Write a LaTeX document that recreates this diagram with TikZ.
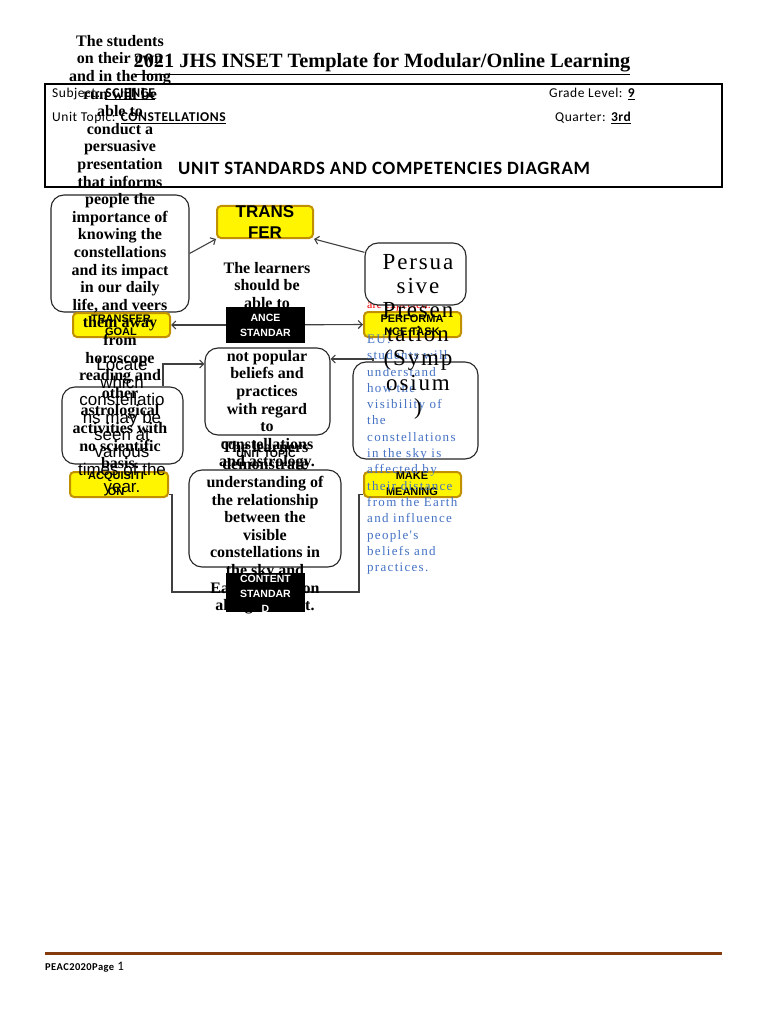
\documentclass[tikz,border=0pt]{standalone}
\usepackage{fontspec}
\setmainfont{Liberation Serif}
\newfontfamily\sfA{Liberation Sans}
\newfontfamily\hdrfont[LetterSpace=4]{Carlito}
\newfontfamily\spserif[LetterSpace=8]{Liberation Serif}
\newfontfamily\blueserif[LetterSpace=10]{Liberation Serif}
\usetikzlibrary{arrows.meta}
\definecolor{ylw}{HTML}{FFF500}
\definecolor{ylwedge}{HTML}{C09000}
\definecolor{eublue}{HTML}{4472C4}
\definecolor{footbrown}{HTML}{843C0C}
\definecolor{conncol}{HTML}{404040}
\tikzset{
  roundbox/.style={draw=black!85, line width=1.1pt, rounded corners=13pt, fill=white, inner sep=0pt},
  ybox/.style={draw=ylwedge, fill=ylw, line width=2pt, rounded corners=4pt, inner sep=0pt},
  ylabel/.style={font=\sfA\bfseries\fontsize{11}{12.5}\selectfont, align=center, inner sep=0pt},
  blackbox/.style={fill=black, inner sep=0pt, minimum width=79pt},
  wlabel/.style={text=white, font=\sfA\bfseries\fontsize{10.5}{15}\selectfont, align=center, inner sep=0pt},
  bodytext/.style={font=\bfseries\fontsize{16}{17.6}\selectfont, align=center, inner sep=0pt},
  hdrtext/.style={font=\hdrfont\fontsize{13.5}{16}\selectfont, inner sep=0pt, anchor=west},
  connline/.style={draw=conncol, line width=1.1pt},
  arr/.style={connline, -{Straight Barb[length=4pt,width=8pt]}},
}
\begin{document}
\begin{tikzpicture}[x=1pt,y=-1pt]
\fill[white] (0,0) rectangle (768,1024);
\useasboundingbox (0,0) rectangle (768,1024);

% header
\node[draw=black, line width=1.2pt, minimum width=677pt, minimum height=103pt, inner sep=0pt] (hdrbox) at (383.5,135.5) {};
\node[font=\bfseries\fontsize{20.3}{22}\selectfont, inner sep=0pt] (title) at (382,64) {\underline{2021 JHS INSET Template for Modular/Online Learning}};
\node[hdrtext] (subj) at (52,94) {Subject: \textbf{\underline{SCIENCE}}};
\node[hdrtext] (topic) at (52,118) {Unit Topic: \textbf{\underline{CONSTELLATIONS}}};
\node[hdrtext] (grade) at (549,94) {Grade Level: \textbf{\underline{9}}};
\node[hdrtext] (quarter) at (555,118) {Quarter: \textbf{\underline{3rd}}};
\node[hdrtext, font=\hdrfont\bfseries\fontsize{18.8}{20}\selectfont] (diagtitle) at (178,168) {UNIT STANDARDS AND COMPETENCIES DIAGRAM};

% red text under the persuasive box
\node[anchor=base west, text=red, font=\fontsize{12}{14}\selectfont, inner sep=0pt] (redtxt) at (367,308.5) {are expected:};

% content boxes
\node[roundbox, minimum width=138pt, minimum height=117pt] (goalbox) at (120,253.5) {};
\node[roundbox, minimum width=101pt, minimum height=62pt] (persbox) at (415.5,274) {};
\node[roundbox, minimum width=125pt, minimum height=87pt] (midbox) at (267.5,391.5) {};
\node[roundbox, minimum width=125pt, minimum height=97pt] (mmbox) at (415.5,410.5) {};
\node[roundbox, fill=none, minimum width=121pt, minimum height=77pt] (acqbox) at (122.5,425.5) {};
\node[roundbox, minimum width=152pt, minimum height=97pt] (unitbox) at (265,518.5) {};

% yellow label boxes
\node[ybox, minimum width=96pt, minimum height=32pt] (transferlbl) at (265,222) {};
\node[ybox, minimum width=97pt, minimum height=24pt] (goallbl) at (121.5,325) {};
\node[ybox, minimum width=97pt, minimum height=25pt] (perflbl) at (412.5,324.5) {};
\node[ybox, minimum width=98pt, minimum height=25pt] (acqlbl) at (119,484.5) {};
\node[ybox, minimum width=97pt, minimum height=25pt] (mmlbl) at (412.5,484.5) {};

\node[ylabel, font=\sfA\bfseries\fontsize{17}{21}\selectfont] (transfertxt) at (265,222.5) {TRANS\\FER};
\node[ylabel] (goaltxtlbl) at (121,325) {TRANSFER\\GOAL};
\node[ylabel] (perftxt) at (412,325) {PERFORMA\\NCE TASK};
\node[ylabel, font=\sfA\bfseries\fontsize{11}{16}\selectfont] (acqtxt) at (116,484) {ACQUISITI\\ON};
\node[ylabel, font=\sfA\bfseries\fontsize{11}{16}\selectfont] (mmtxt) at (412,484) {MAKE\\MEANING};

% connectors
\coordinate (bl) at (172,592);
\coordinate (br) at (359,592);
\draw[arr] (goalbox.east) -- (transferlbl.south west);
\draw[arr] (persbox.157) -- (transferlbl.south east);
\draw[arr] (265,325) -- (goallbl.east);
\draw[arr] (265,325) -- (perflbl.west);
\draw[arr] ([xshift=40.5pt]acqbox.north) |- ([yshift=27.5pt]midbox.west);
\draw[arr] ([xshift=-42.5pt]mmbox.north) |- ([yshift=32.5pt]midbox.east);
\draw[connline] ([yshift=-10pt]acqlbl.east) -| (bl) -- (br) |- ([yshift=-10pt]mmlbl.west);

% texts
\node[bodytext, anchor=north] (goaltxt) at (120,35) {The students\\on their own\\and in the long\\run will be\\able to\\conduct a\\persuasive\\presentation\\that informs\\people the\\importance of\\knowing the\\constellations\\and its impact\\in our daily\\life, and veers\\them away\\from\\horoscope\\reading and\\other\\astrological\\activities with\\no scientific\\basis.};
\node[anchor=north, align=center, inner sep=0pt, font=\sfA\fontsize{17}{17.4}\selectfont] (acqtxtbody) at (122,359) {Locate\\which\\constellatio\\ns may be\\seen at\\various\\times of the\\year.};
\node[bodytext, anchor=north] (midtxt) at (267,262) {The learners\\should be\\able to\\\mbox{}\\\mbox{}\\not popular\\beliefs and\\practices\\with regard\\to\\constellations\\and astrology.};
\node[font=\sfA\bfseries\fontsize{10.5}{12}\selectfont, inner sep=0pt] (unitlbl) at (266,454) {UNIT TOPIC};
\node[bodytext, anchor=north] (unittxt) at (265,441) {The learners\\demonstrate\\understanding of\\the relationship\\between the\\visible\\constellations in\\the sky and\\Earth's position\\along its orbit.};
\node[anchor=north west, align=left, inner sep=0pt, text=eublue, font=\blueserif\fontsize{13}{16.3}\selectfont] (eutxt) at (367,334.7) {EU:\\students will\\understand\\how the\\visibility of\\the\\constellations\\in the sky is\\affected by\\their distance\\from the Earth\\and influence\\people's\\beliefs and\\practices.};
\node[anchor=north, align=center, inner sep=0pt, font=\spserif\fontsize{23}{24.2}\selectfont] (perstxt) at (418,253.8) {Persua\\sive\\Presen\\tation\\(Symp\\osium\\)};

% black standard boxes
\node[blackbox, minimum height=36pt] (stdbox) at (265.5,325) {};
\node[wlabel] (stdtxt) at (265.5,325.5) {ANCE\\STANDAR};
\node[blackbox, minimum height=39pt] (contbox) at (265.5,592.5) {};
\begin{scope}
\clip (contbox.north west) rectangle (contbox.south east);
\node[wlabel] (conttxt) at (265.5,594) {CONTENT\\STANDAR\\D};
\end{scope}

% footer
\coordinate (fl) at (45,953);
\coordinate (fr) at (722,953);
\draw[footbrown, line width=3pt] (fl) -- (fr);
\node[anchor=west, inner sep=0pt, font=\hdrfont\fontsize{10.5}{12}\selectfont] (foot) at (45,967) {\textbf{PEAC2020Page} {\fontsize{13}{14}\selectfont 1}};
\end{tikzpicture}
\end{document}
